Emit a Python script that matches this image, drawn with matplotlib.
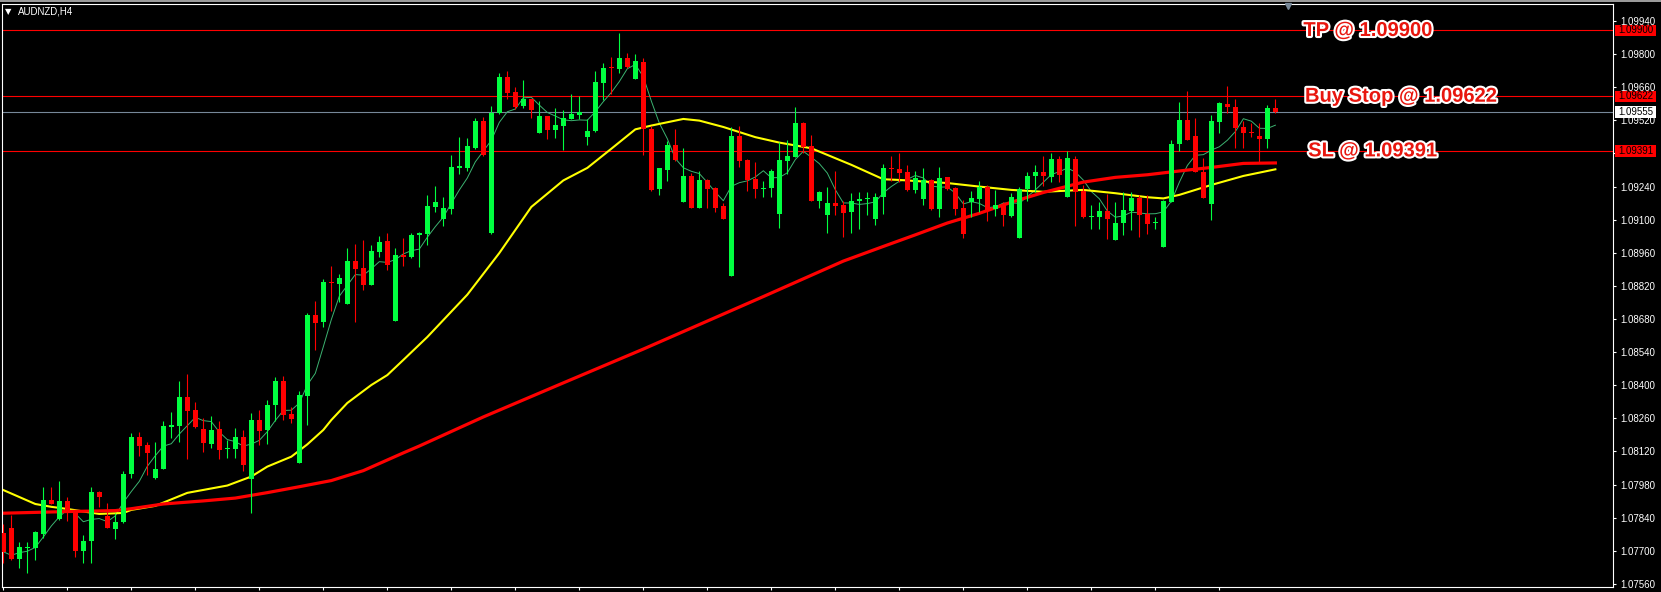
"""AUDNZD H4 candles with the pending order levels."""

import matplotlib

matplotlib.use("Agg")

import matplotlib.patheffects as path_effects
import matplotlib.transforms as mtransforms
import numpy as np
import pandas as pd
from matplotlib import pyplot as plt
from matplotlib.patches import Rectangle

symbol = "AUDNZD,H4"

opens = [
    1.07777, 1.07797, 1.07667, 1.07712, 1.07713, 1.07773, 1.07915, 1.07833, 1.07911, 1.07866,
    1.07701, 1.07743, 1.07949, 1.07847, 1.07794, 1.07823, 1.08026, 1.08180, 1.08146, 1.08007,
    1.08047, 1.08224, 1.08229, 1.08349, 1.08294, 1.08214, 1.08153, 1.08214, 1.08130, 1.08132,
    1.08180, 1.08005, 1.08252, 1.08211, 1.08318, 1.08417, 1.08279, 1.08073, 1.08356, 1.08696,
    1.08668, 1.08836, 1.08828, 1.08745, 1.08925, 1.08896, 1.08824, 1.08965, 1.09010, 1.08673,
    1.08948, 1.08942, 1.09037, 1.09041, 1.09154, 1.09103, 1.09145, 1.09320, 1.09320, 1.09404,
    1.09517, 1.09044, 1.09551, 1.09703, 1.09640, 1.09582, 1.09609, 1.09468, 1.09538, 1.09480,
    1.09497, 1.09527, 1.09543, 1.09451, 1.09475, 1.09679, 1.09743, 1.09737, 1.09784, 1.09696,
    1.09767, 1.09482, 1.09230, 1.09311, 1.09417, 1.09176, 1.09286, 1.09151, 1.09269, 1.09235,
    1.09159, 1.08863, 1.09455, 1.09352, 1.09272, 1.09231, 1.09235, 1.09125, 1.09348, 1.09365,
    1.09510, 1.09412, 1.09180, 1.09121, 1.09169, 1.09161, 1.09134, 1.09180, 1.09186, 1.09102,
    1.09195, 1.09317, 1.09313, 1.09300, 1.09227, 1.09186, 1.09268, 1.09147, 1.09279, 1.09235,
    1.09148, 1.09176, 1.09187, 1.09237, 1.09144, 1.09162, 1.09117, 1.09024, 1.09229, 1.09286,
    1.09300, 1.09282, 1.09357, 1.09197, 1.09357, 1.09221, 1.09111, 1.09113, 1.09137, 1.09015,
    1.09085, 1.09138, 1.09193, 1.09123, 1.09086, 1.08986, 1.09176, 1.09421, 1.09522, 1.09454,
    1.09303, 1.09165, 1.09514, 1.09589, 1.09575, 1.09491, 1.09468, 1.09454, 1.09441, 1.09571,
]
highs = [
    1.07814, 1.07852, 1.07739, 1.07736, 1.07783, 1.07971, 1.07970, 1.07995, 1.07929, 1.07870,
    1.07767, 1.07971, 1.07952, 1.07901, 1.07859, 1.08038, 1.08198, 1.08204, 1.08161, 1.08160,
    1.08249, 1.08287, 1.08419, 1.08448, 1.08329, 1.08263, 1.08269, 1.08248, 1.08169, 1.08218,
    1.08211, 1.08284, 1.08294, 1.08338, 1.08435, 1.08439, 1.08307, 1.08375, 1.08706, 1.08756,
    1.08849, 1.08906, 1.08870, 1.08980, 1.08997, 1.09014, 1.08993, 1.09031, 1.09044, 1.08980,
    1.09023, 1.09044, 1.09049, 1.09204, 1.09242, 1.09196, 1.09374, 1.09450, 1.09444, 1.09530,
    1.09533, 1.09581, 1.09720, 1.09729, 1.09660, 1.09691, 1.09612, 1.09602, 1.09540, 1.09572,
    1.09562, 1.09630, 1.09622, 1.09526, 1.09730, 1.09764, 1.09788, 1.09889, 1.09803, 1.09800,
    1.09782, 1.09496, 1.09320, 1.09431, 1.09482, 1.09403, 1.09296, 1.09305, 1.09271, 1.09237,
    1.09172, 1.09493, 1.09495, 1.09358, 1.09344, 1.09262, 1.09314, 1.09430, 1.09437, 1.09576,
    1.09514, 1.09458, 1.09221, 1.09240, 1.09306, 1.09180, 1.09212, 1.09218, 1.09218, 1.09214,
    1.09334, 1.09368, 1.09381, 1.09331, 1.09306, 1.09317, 1.09270, 1.09324, 1.09282, 1.09237,
    1.09183, 1.09221, 1.09264, 1.09247, 1.09226, 1.09176, 1.09214, 1.09240, 1.09302, 1.09332,
    1.09369, 1.09381, 1.09369, 1.09390, 1.09368, 1.09247, 1.09162, 1.09174, 1.09209, 1.09176,
    1.09218, 1.09218, 1.09204, 1.09204, 1.09110, 1.09182, 1.09437, 1.09596, 1.09644, 1.09530,
    1.09360, 1.09543, 1.09596, 1.09667, 1.09609, 1.09519, 1.09508, 1.09508, 1.09585, 1.09610,
]
lows = [
    1.07650, 1.07661, 1.07629, 1.07605, 1.07661, 1.07753, 1.07897, 1.07830, 1.07828, 1.07675,
    1.07650, 1.07650, 1.07887, 1.07796, 1.07752, 1.07818, 1.08009, 1.08101, 1.08021, 1.08005,
    1.08045, 1.08177, 1.08161, 1.08087, 1.08221, 1.08119, 1.08136, 1.08087, 1.08094, 1.08094,
    1.08038, 1.07859, 1.08148, 1.08152, 1.08250, 1.08253, 1.08239, 1.08070, 1.08232, 1.08549,
    1.08648, 1.08714, 1.08753, 1.08743, 1.08669, 1.08804, 1.08822, 1.08944, 1.08889, 1.08670,
    1.08906, 1.08939, 1.08901, 1.08993, 1.09134, 1.09075, 1.09125, 1.09294, 1.09307, 1.09400,
    1.09368, 1.09041, 1.09548, 1.09612, 1.09568, 1.09572, 1.09531, 1.09466, 1.09440, 1.09447,
    1.09396, 1.09524, 1.09527, 1.09416, 1.09469, 1.09606, 1.09633, 1.09721, 1.09743, 1.09694,
    1.09374, 1.09223, 1.09204, 1.09265, 1.09349, 1.09174, 1.09149, 1.09149, 1.09151, 1.09131,
    1.09101, 1.08861, 1.09324, 1.09221, 1.09193, 1.09197, 1.09197, 1.09066, 1.09293, 1.09363,
    1.09381, 1.09178, 1.09151, 1.09042, 1.09121, 1.09026, 1.09045, 1.09059, 1.09120, 1.09079,
    1.09123, 1.09264, 1.09261, 1.09221, 1.09214, 1.09162, 1.09141, 1.09113, 1.09226, 1.09120,
    1.09024, 1.09110, 1.09134, 1.09096, 1.09116, 1.09075, 1.09113, 1.09022, 1.09179, 1.09217,
    1.09242, 1.09261, 1.09261, 1.09195, 1.09075, 1.09109, 1.09061, 1.09061, 1.09017, 1.09013,
    1.09035, 1.09056, 1.09028, 1.09040, 1.09061, 1.08984, 1.09174, 1.09390, 1.09435, 1.09301,
    1.09191, 1.09099, 1.09465, 1.09552, 1.09404, 1.09404, 1.09451, 1.09345, 1.09402, 1.09550,
]
closes = [
    1.07696, 1.07666, 1.07715, 1.07715, 1.07780, 1.07915, 1.07899, 1.07911, 1.07863, 1.07700,
    1.07742, 1.07948, 1.07929, 1.07798, 1.07821, 1.08025, 1.08180, 1.08145, 1.08115, 1.08046,
    1.08227, 1.08231, 1.08349, 1.08291, 1.08224, 1.08157, 1.08211, 1.08128, 1.08132, 1.08180,
    1.08064, 1.08252, 1.08207, 1.08315, 1.08417, 1.08276, 1.08258, 1.08358, 1.08697, 1.08663,
    1.08837, 1.08832, 1.08854, 1.08925, 1.08892, 1.08824, 1.08966, 1.09006, 1.08909, 1.08951,
    1.08944, 1.09035, 1.09040, 1.09158, 1.09176, 1.09148, 1.09323, 1.09323, 1.09412, 1.09517,
    1.09374, 1.09552, 1.09703, 1.09636, 1.09575, 1.09610, 1.09564, 1.09538, 1.09480, 1.09500,
    1.09529, 1.09546, 1.09554, 1.09474, 1.09681, 1.09741, 1.09740, 1.09784, 1.09746, 1.09770,
    1.09482, 1.09226, 1.09317, 1.09417, 1.09352, 1.09286, 1.09151, 1.09269, 1.09230, 1.09148,
    1.09103, 1.09455, 1.09347, 1.09268, 1.09230, 1.09235, 1.09306, 1.09352, 1.09369, 1.09510,
    1.09409, 1.09180, 1.09217, 1.09169, 1.09158, 1.09130, 1.09179, 1.09187, 1.09187, 1.09195,
    1.09319, 1.09314, 1.09299, 1.09227, 1.09275, 1.09268, 1.09144, 1.09275, 1.09230, 1.09145,
    1.09040, 1.09192, 1.09237, 1.09141, 1.09161, 1.09120, 1.09195, 1.09230, 1.09283, 1.09302,
    1.09283, 1.09357, 1.09290, 1.09360, 1.09218, 1.09111, 1.09116, 1.09137, 1.09103, 1.09085,
    1.09141, 1.09193, 1.09121, 1.09083, 1.09089, 1.09179, 1.09420, 1.09522, 1.09437, 1.09303,
    1.09193, 1.09517, 1.09592, 1.09575, 1.09486, 1.09465, 1.09465, 1.09442, 1.09571, 1.09555,
]

# slow averages at these bar numbers
yellow_bars = [0, 4, 6, 8, 12, 15, 16, 19, 23, 28, 31, 33, 36, 38, 40, 41, 43, 46, 48, 50,
               53, 58, 62, 66, 70, 73, 76, 79, 81, 85, 87, 90, 94, 97, 101, 106, 110, 112,
               118, 122, 126, 130, 135, 139, 143, 145, 147, 151, 155, 159]
yellow_vals = [1.07957, 1.07898, 1.07886, 1.07877, 1.07856, 1.07860, 1.07873, 1.07890,
               1.07945, 1.07976, 1.08014, 1.08056, 1.08098, 1.08150, 1.08211, 1.08253,
               1.08325, 1.08401, 1.08443, 1.08507, 1.08604, 1.08783, 1.08959, 1.09154,
               1.09266, 1.09319, 1.09400, 1.09482, 1.09498, 1.09526, 1.09519, 1.09492,
               1.09449, 1.09426, 1.09402, 1.09332, 1.09271, 1.09268, 1.09255, 1.09240,
               1.09226, 1.09218, 1.09226, 1.09212, 1.09195, 1.09190, 1.09205, 1.09247,
               1.09285, 1.09313]
red_bars = [0, 8, 14, 16, 20, 25, 29, 33, 37, 41, 45, 50, 52, 60, 70, 80, 90, 95, 100, 102,
            105, 110, 114, 118, 122, 126, 130, 135, 139, 143, 147, 151, 155, 159]
red_vals = [1.07859, 1.07866, 1.07870, 1.07878, 1.07898, 1.07911, 1.07923, 1.07946,
            1.07971, 1.07997, 1.08039, 1.08114, 1.08143, 1.08266, 1.08410, 1.08553,
            1.08701, 1.08775, 1.08850, 1.08880, 1.08925, 1.08987, 1.09036, 1.09086,
            1.09127, 1.09174, 1.09215, 1.09259, 1.09279, 1.09290, 1.09306, 1.09321,
            1.09338, 1.09340]

price_ticks = [1.07560, 1.07700, 1.07840, 1.07980, 1.08120, 1.08260, 1.08400, 1.08540,
               1.08680, 1.08820, 1.08960, 1.09100, 1.09240, 1.09380, 1.09520, 1.09660,
               1.09800, 1.09940]

tp = 1.09900
buy_stop = 1.09622
sl = 1.09391
bid = 1.09555

BULL = "#00FF40"
BEAR = "#FF0000"
LABEL_RED = "#E8160E"

plt.rcParams["font.family"] = ["Liberation Sans", "DejaVu Sans"]

fig = plt.figure(figsize=(16.61, 5.92), dpi=100, facecolor="black")
ax = fig.add_axes([2 / 1661, 5 / 592, 1611 / 1661, 583 / 592])
ax.set_facecolor("black")

o = np.array(opens)
h = np.array(highs)
l = np.array(lows)
c = np.array(closes)
x = np.arange(len(c))
colors = np.where(c >= o, BULL, BEAR)

# order levels
for level in (tp, buy_stop, sl):
    ax.axhline(level, color="#FF0000", linewidth=0.8, zorder=1)
ax.axhline(bid, color="#778899", linewidth=0.8, zorder=1)

# moving averages
fast = pd.Series(c).rolling(5, min_periods=1).mean()
ax.plot(x, fast, color="#3CB371", linewidth=0.7, zorder=2)
ax.plot(yellow_bars, yellow_vals, color="#FFFF00", linewidth=1.5, zorder=2)
ax.plot(red_bars, red_vals, color="#FF0000", linewidth=2.3, zorder=2)

# candles
ax.vlines(x, l, h, colors=colors, linewidth=0.8, zorder=3)
body_low = np.minimum(o, c)
body_height = np.maximum(np.abs(c - o), 0.00005)
ax.bar(x, body_height, bottom=body_low, width=0.62, color=colors, linewidth=0, zorder=4)

ax.set_xlim(-0.16, 201.2)
ax.set_ylim(1.07547, 1.10012)

# tags sit on top of the scale; the label right under the SL tag is hidden
tags = (tp, buy_stop, sl, bid)
tick_labels = []
for p in price_ticks:
    hidden = any(abs(p - t) < 0.00015 for t in tags)
    tick_labels.append("" if hidden else f"{p:.5f}")

ax.yaxis.tick_right()
ax.set_yticks(price_ticks)
ax.set_yticklabels(tick_labels)
ax.set_xticks(np.arange(0, 153, 8))
ax.tick_params(axis="y", colors="white", labelcolor="white", labelsize=7,
               length=2.5, width=0.8, pad=2.5)
ax.tick_params(axis="x", colors="white", length=2.5, width=0.8, labelbottom=False)
for spine in ax.spines.values():
    spine.set_color("white")
    spine.set_linewidth(0.8)

# price tags on the right scale
tag_trans = mtransforms.blended_transform_factory(ax.transAxes, ax.transData)
for level, face in ((tp, "#FF0000"), (buy_stop, "#FF0000"), (sl, "#FF0000"), (bid, "white")):
    ax.add_patch(Rectangle((1.0012, level - 0.00024), 0.0258, 0.00048, transform=tag_trans,
                           facecolor=face, edgecolor="none", clip_on=False, zorder=6))
    ax.text(1.0036, level, f"{level:.5f}", transform=tag_trans, fontsize=7, color="black",
            va="center", ha="left", clip_on=False, zorder=7)

# order labels
outline = [path_effects.withStroke(linewidth=3, foreground="white")]
for level, text, x_pos in ((tp, "TP @ 1.09900", 162.5),
                           (buy_stop, "Buy Stop @ 1.09622", 162.7),
                           (sl, "SL @ 1.09391", 163.1)):
    ax.text(x_pos, level, text, fontsize=14.5, fontweight="bold", color=LABEL_RED,
            va="center", ha="left", path_effects=outline, zorder=8)

# window header
ax.annotate("\u25bc", xy=(0, 1), xycoords="axes fraction", xytext=(6.5, -7.5),
            textcoords="offset pixels", color="white", fontsize=6, va="center", ha="center",
            family="DejaVu Sans")
ax.annotate(symbol, xy=(0, 1), xycoords="axes fraction", xytext=(16, -7.5),
            textcoords="offset pixels", color="white", fontsize=7, va="center", ha="left")
ax.plot([0.798], [0.9965], marker="v", markersize=4, color="#778899",
        transform=ax.transAxes, clip_on=False, zorder=9)
fig.patches.append(Rectangle((0, 1 - 2 / 592), 1, 2 / 592, transform=fig.transFigure,
                             facecolor="#9A9A9A", edgecolor="none"))

fig.savefig("out.png", dpi=100, facecolor="black")
